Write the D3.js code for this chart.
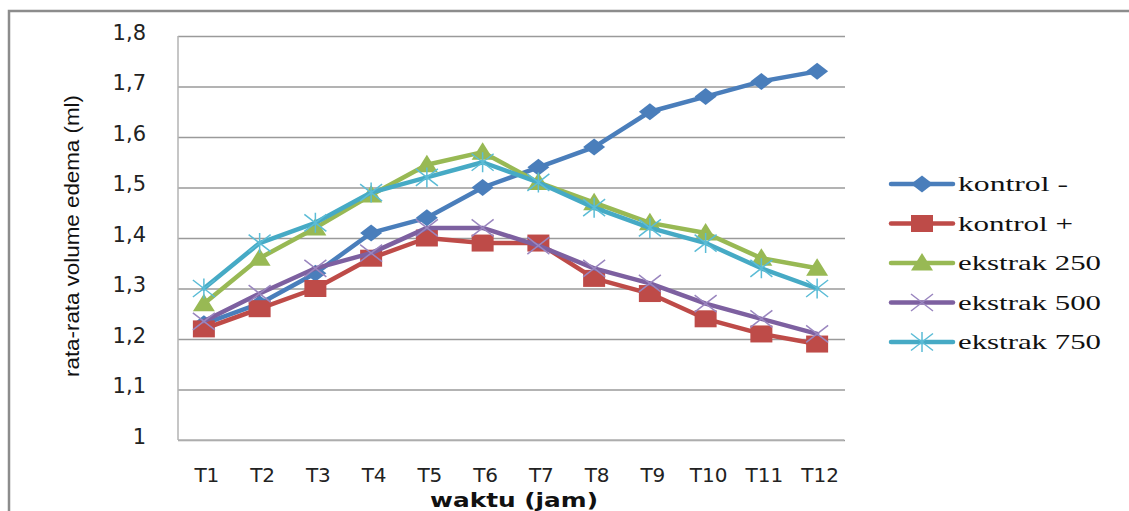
<!DOCTYPE html>
<html><head><meta charset="utf-8">
<script src="https://cdn.jsdelivr.net/npm/d3@7"></script>
<style>html,body{margin:0;padding:0;background:#fff;overflow:hidden}</style>
</head><body>
<svg id="c" width="1129" height="511"></svg>
<script>
const categories = ["T1","T2","T3","T4","T5","T6","T7","T8","T9","T10","T11","T12"];
const seriesNames = ["kontrol -","kontrol +","ekstrak 250","ekstrak 500","ekstrak 750"];
const kontrolMinus = [1.23,1.27,1.33,1.41,1.44,1.50,1.54,1.58,1.65,1.68,1.71,1.73];
const kontrolPlus  = [1.22,1.26,1.30,1.36,1.40,1.39,1.39,1.32,1.29,1.24,1.21,1.19];
const ekstrak250   = [1.27,1.36,1.42,1.485,1.545,1.57,1.51,1.47,1.43,1.41,1.36,1.34];
const ekstrak500   = [1.235,1.29,1.34,1.37,1.42,1.42,1.385,1.34,1.31,1.27,1.24,1.21];
const ekstrak750   = [1.30,1.39,1.43,1.49,1.52,1.55,1.51,1.46,1.42,1.39,1.34,1.30];
const yTicks = [1,1.1,1.2,1.3,1.4,1.5,1.6,1.7,1.8];
const yTickLabels = ["1","1,1","1,2","1,3","1,4","1,5","1,6","1,7","1,8"];
const yTitle = "rata-rata volume edema (ml)";
const xTitle = "waktu (jam)";

const seriesValues = [kontrolMinus,kontrolPlus,ekstrak250,ekstrak500,ekstrak750];
const colors = ["#4A7EBB","#BE4B48","#98B954","#7D60A0","#46AAC5"];
const markerColors = ["#4A7EBB","#BE4B48","#98B954","#9A86BF","#5BBCD6"];
const markers = ["diamond","square","triangle","x","star"];

const svg = d3.select("#c");
const pLeft = 176, pRight = 845, pTop = 36, pBottom = 440;
const x = d3.scaleBand().domain(categories).range([pLeft, pRight]);
const cx = c => x(c) + x.bandwidth()/2;
const y = d3.scaleLinear().domain([1,1.8]).range([pBottom, pTop]);

// outer border
svg.append("rect").attr("x",9).attr("y",11).attr("width",1200).attr("height",600)
  .attr("fill","none").attr("stroke","#8c8c8c").attr("stroke-width",2.5);

// gridlines
const yAxis = d3.axisLeft(y).tickValues(yTicks).tickSize(-(pRight-pLeft-2)).tickFormat("");
const gy = svg.append("g").attr("transform",`translate(${pLeft+2},0)`).call(yAxis);
gy.select(".domain").remove();
gy.selectAll(".tick line").attr("stroke","#9a9a9a").attr("stroke-width",1.5);

// plot left border and bottom
svg.append("line").attr("x1",pLeft+2).attr("x2",pLeft+2).attr("y1",y(1.8)).attr("y2",y(1))
  .attr("stroke","#b3b3b3").attr("stroke-width",1.5);
svg.append("line").attr("x1",pLeft+2).attr("x2",pRight-1).attr("y1",y(1)).attr("y2",y(1))
  .attr("stroke","#b3b3b3").attr("stroke-width",1.5);

// y tick labels
svg.append("g").selectAll("text").data(yTicks).join("text")
  .attr("x",146).attr("y",d=>y(d)-4).attr("dy","0.36em").attr("text-anchor","end")
  .attr("font-family","DejaVu Sans").attr("font-size",21).attr("fill","#222")
  .text((d,i)=>yTickLabels[i]);

// x tick labels
svg.append("g").selectAll("text").data(categories).join("text")
  .attr("x",d=>cx(d)+3).attr("y",482).attr("text-anchor","middle")
  .attr("font-family","DejaVu Sans").attr("font-size",20).attr("fill","#222")
  .text(d=>d);

// axis titles
svg.append("text").attr("x",514).attr("y",507).attr("text-anchor","middle")
  .attr("font-family","DejaVu Sans").attr("font-weight","bold").attr("font-size",19)
  .attr("textLength",168).attr("lengthAdjust","spacingAndGlyphs").attr("fill","#111").text(xTitle);
svg.append("text").attr("transform","translate(79,236) rotate(-90)").attr("text-anchor","middle")
  .attr("font-family","Liberation Sans").attr("font-size",20)
  .attr("textLength",282).attr("lengthAdjust","spacingAndGlyphs").attr("fill","#111").text(yTitle);

function drawMarker(g, type, color, fillColor){
  if(type==="diamond"){
    g.append("path").attr("d","M-11,0L0,-8.5L11,0L0,8.5Z").attr("fill",color);
  } else if(type==="square"){
    g.append("path").attr("d","M-11,-8.5H11V8.5H-11Z").attr("fill",color);
  } else if(type==="triangle"){
    g.append("path").attr("d","M0,-10L11,7.5L-11,7.5Z").attr("fill",color);
  } else if(type==="x"){
    g.append("path").attr("d","M-11,-8.5L11,8.5M-11,8.5L11,-8.5").attr("stroke",fillColor).attr("stroke-width",1.5).attr("fill","none");
  } else {
    g.append("path").attr("d","M-11,-8.5L11,8.5M-11,8.5L11,-8.5M0,-10V10").attr("stroke",fillColor).attr("stroke-width",1.5).attr("fill","none");
  }
}

const line = d3.line().x((d,i)=>cx(categories[i])).y(d=>y(d));
seriesValues.forEach((vals,si)=>{
  const g = svg.append("g");
  g.append("path").attr("d",line(vals)).attr("fill","none").attr("stroke",colors[si])
    .attr("stroke-width",4.5).attr("stroke-linejoin","round").attr("stroke-linecap","round");
  vals.forEach((v,i)=>{
    const mg = g.append("g").attr("transform",`translate(${cx(categories[i])},${y(v)})`);
    drawMarker(mg, markers[si], colors[si], markerColors[si]);
  });
});

// legend
const legendY = d3.scalePoint().domain(seriesNames).range([184,342]);
const legendWidths = [110,115,143,143,143];
seriesNames.forEach((name,si)=>{
  const ly = legendY(name);
  const g = svg.append("g");
  g.append("line").attr("x1",891).attr("x2",953).attr("y1",ly).attr("y2",ly)
    .attr("stroke",colors[si]).attr("stroke-width",4.5).attr("stroke-linecap","round");
  const mg = g.append("g").attr("transform",`translate(922,${ly})`);
  drawMarker(mg, markers[si], colors[si], markerColors[si]);
  g.append("text").attr("x",958).attr("y",ly).attr("dy","0.33em")
    .attr("font-family","Liberation Serif").attr("font-size",22).attr("fill","#111")
    .attr("textLength",legendWidths[si]).attr("lengthAdjust","spacingAndGlyphs").text(name);
});
</script>
</body></html>
